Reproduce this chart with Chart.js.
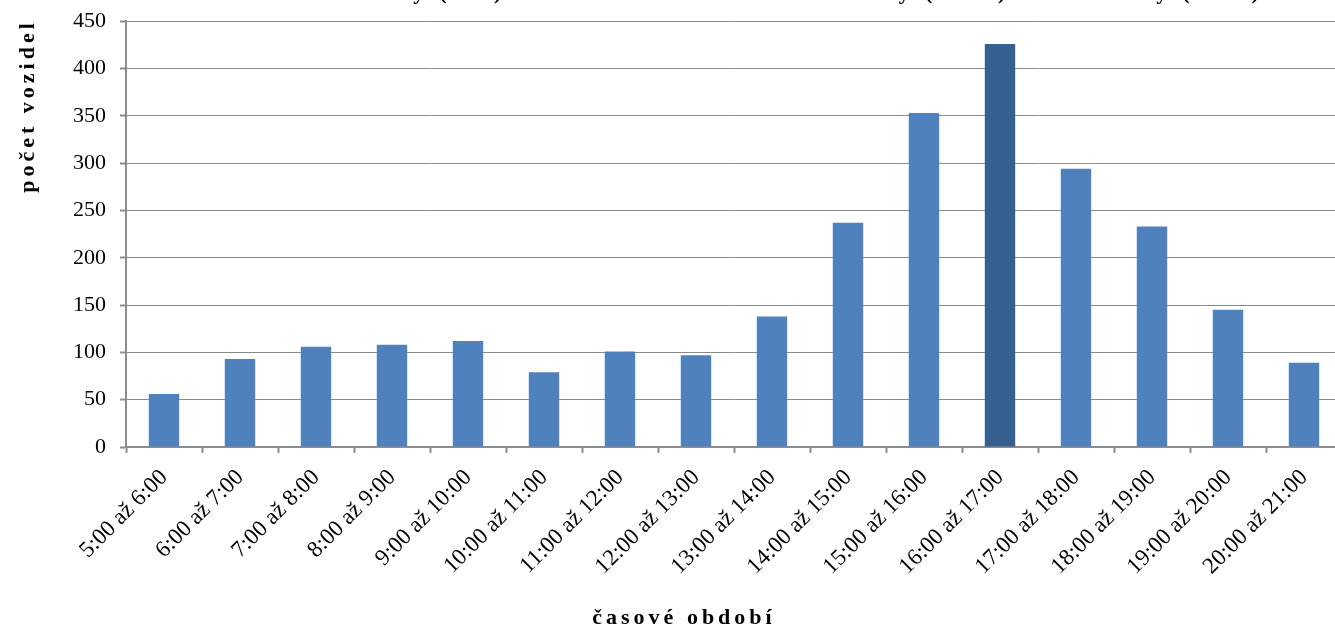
<!DOCTYPE html>
<html>
<head>
<meta charset="utf-8">
<script src="https://cdn.jsdelivr.net/npm/chart.js@4"></script>
<style>
    html, body { margin: 0; padding: 0; background: #fff; overflow: hidden; }
    #wrap { position: relative; width: 1342px; height: 634px; margin-top: -6px; }
</style>
</head>
<body>
<div id="wrap"><canvas id="traffic-chart"></canvas></div>
<script>
const categories = [
    '5:00 až 6:00', '6:00 až 7:00', '7:00 až 8:00', '8:00 až 9:00',
    '9:00 až 10:00', '10:00 až 11:00', '11:00 až 12:00', '12:00 až 13:00',
    '13:00 až 14:00', '14:00 až 15:00', '15:00 až 16:00', '16:00 až 17:00',
    '17:00 až 18:00', '18:00 až 19:00', '19:00 až 20:00', '20:00 až 21:00'
];
const vehicleCounts = [56, 93, 106, 108, 112, 79, 101, 97, 138, 237, 353, 426, 294, 233, 145, 89];
const yTicks = [0, 50, 100, 150, 200, 250, 300, 350, 400, 450];

const chartTitle = 'Osobní automobily (OA) + lehké nákladní automobily (LNA) + autobusy (BUS)';
const yTitle = 'počet vozidel';
const xTitle = 'časové období';

const peakIndex = 11;
const serif = '"Liberation Serif", "Times New Roman", serif';
const shift = 6; // canvas is pulled up by this much so the title is cut like the original

// axis titles and the cut-off chart title need letter spacing, so they are drawn by hand
const spacedTexts = {
    id: 'spacedTexts',
    afterDraw: function(chart) {
        const ctx = chart.ctx;
        ctx.save();
        ctx.fillStyle = '#000';
        ctx.textBaseline = 'alphabetic';
        ctx.textAlign = 'center';

        ctx.font = 'bold 22px ' + serif;
        ctx.letterSpacing = '4.8px';
        ctx.fillText(chartTitle, 716, shift - 1);

        ctx.letterSpacing = '4px';
        ctx.fillText(xTitle, 684, shift + 624);

        ctx.translate(34, shift + 106);
        ctx.rotate(-Math.PI / 2);
        ctx.fillText(yTitle, 0, 0);
        ctx.restore();
    }
};

new Chart(document.getElementById('traffic-chart'), {
    type: 'bar',
    data: {
        labels: categories,
        datasets: [{
            data: vehicleCounts,
            backgroundColor: vehicleCounts.map(function(v, i) {
                return i === peakIndex ? '#36608F' : '#4F81BD';
            }),
            borderWidth: 0,
            barPercentage: 0.8,
            categoryPercentage: 0.5,
        }]
    },
    options: {
        responsive: true,
        maintainAspectRatio: false,
        animation: false,
        layout: { padding: { left: 50, top: 16, right: 0, bottom: 0 } },
        plugins: {
            legend: { display: false },
            title: { display: false },
            tooltip: { enabled: false }
        },
        scales: {
            x: {
                grid: {
                    drawOnChartArea: false,
                    drawTicks: true,
                    tickLength: 6,
                    tickColor: '#8c8c8c',
                    tickWidth: 2,
                },
                border: { color: '#8c8c8c', width: 2 },
                ticks: {
                    font: { family: serif, size: 23 },
                    color: '#000',
                    minRotation: 45,
                    maxRotation: 45,
                    padding: 11,
                },
                afterFit: function(scale) { scale.height = 181; }
            },
            y: {
                min: 0,
                max: 450,
                afterBuildTicks: function(scale) {
                    scale.ticks = yTicks.map(function(v) { return { value: v }; });
                },
                grid: {
                    color: '#8a8a8a',
                    lineWidth: 1,
                    borderDash: [1, 1],
                    drawTicks: true,
                    tickLength: 6,
                    tickColor: '#8c8c8c',
                    tickWidth: 2,
                    tickBorderDash: [],
                },
                border: { color: '#8c8c8c', width: 2 },
                ticks: {
                    font: { family: serif, size: 22 },
                    color: '#000',
                    padding: 14,
                },
                afterFit: function(scale) { scale.width = 76; }
            }
        }
    },
    plugins: [spacedTexts]
});
</script>
</body>
</html>
